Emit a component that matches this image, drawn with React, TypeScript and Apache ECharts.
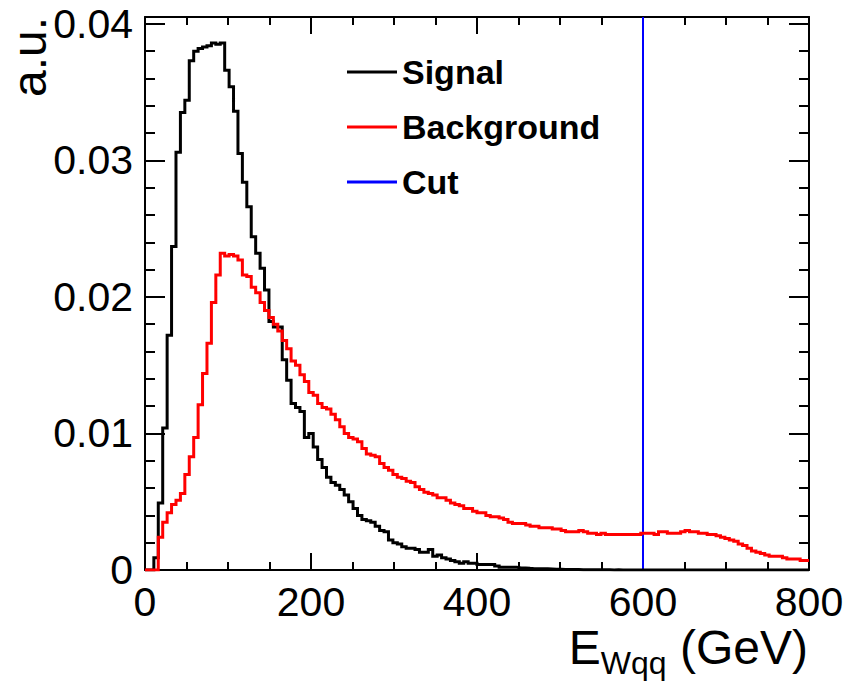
import { useEffect, useRef } from 'react';
import * as echarts from 'echarts';

const X_MIN = 0;
const X_MAX = 800;
const Y_MIN = 0;
const Y_MAX = 0.0405;

// 150 bins of 800/150 GeV each
const signal = [
  0, 0, 0.0009, 0.0049, 0.0104, 0.0172, 0.0237, 0.0306, 0.0335, 0.0344,
  0.0373, 0.038, 0.0382, 0.0383, 0.0384, 0.0386, 0.0385, 0.0386, 0.0366, 0.0354,
  0.0336, 0.0305, 0.0284, 0.0266, 0.0244, 0.0232, 0.0221, 0.0205, 0.0182, 0.0178,
  0.0178, 0.0154, 0.0139, 0.0122, 0.0119, 0.0116, 0.0097, 0.01, 0.009, 0.0081,
  0.0075, 0.0068, 0.0064, 0.0062, 0.0059, 0.0055, 0.005, 0.0045, 0.004, 0.0037,
  0.0036, 0.0035, 0.0032, 0.0029, 0.0028, 0.0022, 0.002, 0.0019, 0.0017, 0.0016,
  0.0016, 0.0015, 0.0013, 0.0013, 0.0015, 0.001, 0.0011, 0.0009, 0.0008, 0.0007,
  0.0006, 0.0005, 0.0006, 0.0005, 0.0005, 0.0004, 0.0004, 0.0004, 0.0004, 0.0003,
  0.0002, 0.0002, 0.0002, 0.0002, 0.00015, 0.00015, 0.00012, 0.0001, 0.0001, 0.0001,
  0.0001, 0.00008, 0.00006, 0.00005, 0.00004, 0.00004, 0.00003, 0.00003, 0.00002, 0.00002,
  0.00002, 0.00001, 0.00002, 0.00001, 0.00001, 0, 0.00001, 0, 0, 0,
  0, 0, 0, 0, 0, 0, 0, 0, 0, 0,
  0, 0, 0, 0, 0, 0, 0, 0, 0, 0,
  0, 0, 0, 0, 0, 0, 0, 0, 0, 0,
  0, 0, 0, 0, 0, 0, 0, 0, 0, 0,
];

const background = [
  0, 0, 0, 0.0024, 0.0035, 0.0042, 0.0048, 0.0051, 0.0056, 0.007,
  0.0083, 0.0097, 0.0121, 0.0144, 0.0166, 0.0196, 0.0216, 0.0232, 0.023, 0.0231,
  0.023, 0.0227, 0.0216, 0.0215, 0.0207, 0.0203, 0.0196, 0.019, 0.0185, 0.018,
  0.0175, 0.0168, 0.0162, 0.0153, 0.015, 0.0143, 0.0138, 0.013, 0.0128, 0.0122,
  0.0119, 0.0118, 0.0114, 0.011, 0.0105, 0.01, 0.0097, 0.0096, 0.0094, 0.0089,
  0.0085, 0.0084, 0.0083, 0.0078, 0.0075, 0.0073, 0.007, 0.0068, 0.0067, 0.0065,
  0.0064, 0.0061, 0.0059, 0.0057, 0.0056, 0.0055, 0.0053, 0.0053, 0.0051, 0.0049,
  0.0048, 0.0047, 0.0045, 0.0045, 0.0043, 0.0042, 0.0042, 0.004, 0.0039, 0.0039,
  0.0038, 0.0037, 0.0035, 0.0034, 0.0034, 0.0034, 0.0033, 0.0032, 0.0032, 0.0031,
  0.0031, 0.0031, 0.003, 0.003, 0.0029, 0.0028, 0.0028, 0.0028, 0.0029, 0.0028,
  0.0027, 0.0027, 0.0026, 0.0027, 0.0026, 0.0026, 0.0026, 0.0026, 0.0026, 0.0026,
  0.0026, 0.0026, 0.0027, 0.0027, 0.0027, 0.0026, 0.0028, 0.0028, 0.0027, 0.0027,
  0.0027, 0.0028, 0.0029, 0.0028, 0.0028, 0.0027, 0.0027, 0.0026, 0.0026, 0.0025,
  0.0024, 0.0023, 0.0022, 0.0021, 0.0019, 0.0018, 0.0016, 0.0014, 0.0013, 0.0012,
  0.0011, 0.001, 0.001, 0.001, 0.0009, 0.0008, 0.0008, 0.0008, 0.0007, 0.0007,
];

const cutPosition = [600];
const seriesNames = ['Signal', 'Background', 'Cut'];

const FONT = "'Liberation Sans', Arial, Helvetica, sans-serif";

function toSteps(values: number[]) {
  const w = (X_MAX - X_MIN) / values.length;
  const pts: number[][] = values.map((v, i) => [X_MIN + i * w, v]);
  pts.push([X_MAX, values[values.length - 1]]);
  return pts;
}

const axisLineStyle = { color: '#000', width: 2 };

function xAxisDef(position: 'top' | 'bottom', labels: boolean) {
  return {
    type: 'value',
    position,
    min: X_MIN,
    max: X_MAX,
    interval: 200,
    axisLine: { show: true, onZero: false, lineStyle: axisLineStyle },
    axisTick: { show: true, inside: true, length: 17, lineStyle: axisLineStyle },
    minorTick: { show: true, splitNumber: 4, length: 8, lineStyle: axisLineStyle },
    axisLabel: {
      show: labels,
      margin: 11,
      fontSize: 41,
      fontFamily: FONT,
      color: '#000',
    },
    splitLine: { show: false },
    minorSplitLine: { show: false },
  };
}

function yAxisDef(position: 'left' | 'right', major: boolean, labels: boolean) {
  return {
    type: 'value',
    position,
    min: Y_MIN,
    max: Y_MAX,
    interval: major ? 0.01 : 0.002,
    axisLine: { show: major, onZero: false, lineStyle: axisLineStyle },
    axisTick: { show: true, inside: true, length: major ? 20 : 10, lineStyle: axisLineStyle },
    axisLabel: {
      show: labels,
      margin: 12,
      fontSize: 41,
      fontFamily: FONT,
      color: '#000',
      formatter: (v: number) => {
        const k = v / 0.01;
        if (Math.abs(k - Math.round(k)) > 1e-6) return '';
        return v === 0 ? '0' : String(Math.round(k) / 100);
      },
    },
    splitLine: { show: false },
  };
}

export default function App() {
  const ref = useRef<HTMLDivElement>(null);

  useEffect(() => {
    document.body.style.margin = '0';
    if (!ref.current) return;
    const chart = echarts.init(ref.current, undefined, { renderer: 'svg' });
    const option: any = {
      animation: false,
      backgroundColor: '#ffffff',
      grid: { left: 145, top: 17, width: 664, height: 553, containLabel: false, outerBoundsMode: 'none' },
      legend: {
        orient: 'vertical',
        left: 342,
        top: 50,
        icon: 'rect',
        itemWidth: 50,
        itemHeight: 3,
        itemGap: 21,
        itemTextGap: 11,
        selectedMode: false,
        data: seriesNames,
        textStyle: { fontSize: 34, fontWeight: 'bold', fontFamily: FONT, color: '#000', lineHeight: 34 },
      },
      xAxis: [xAxisDef('bottom', true), xAxisDef('top', false)],
      yAxis: [
        yAxisDef('left', true, true),
        yAxisDef('left', false, false),
        yAxisDef('right', true, false),
        yAxisDef('right', false, false),
      ],
      series: [
        {
          name: seriesNames[0],
          type: 'line',
          xAxisIndex: 0,
          yAxisIndex: 0,
          data: toSteps(signal),
          step: 'end',
          symbol: 'none',
          showSymbol: false,
          lineStyle: { color: '#000000', width: 3, join: 'miter', cap: 'butt' },
          itemStyle: { color: '#000000' },
          z: 3,
        },
        {
          name: seriesNames[2],
          type: 'line',
          xAxisIndex: 0,
          yAxisIndex: 0,
          data: cutPosition.flatMap((c) => [[c, Y_MIN], [c, Y_MAX]]),
          symbol: 'none',
          showSymbol: false,
          lineStyle: { color: '#0000ff', width: 2 },
          itemStyle: { color: '#0000ff' },
          z: 2,
        },
        {
          name: seriesNames[1],
          type: 'line',
          xAxisIndex: 0,
          yAxisIndex: 0,
          data: toSteps(background),
          step: 'end',
          symbol: 'none',
          showSymbol: false,
          lineStyle: { color: '#ff0000', width: 3, join: 'miter', cap: 'butt' },
          itemStyle: { color: '#ff0000' },
          z: 4,
        },
      ],
      graphic: [
        {
          type: 'text',
          x: 53,
          y: 17,
          rotation: Math.PI / 2,
          style: {
            text: 'a.u.',
            fontSize: 48,
            fontFamily: FONT,
            fill: '#000',
            align: 'right',
            verticalAlign: 'bottom',
          },
        },
        {
          type: 'text',
          x: 808,
          y: 647,
          style: {
            text: '{e|E}{s|Wqq}{g| (GeV)}',
            fill: '#000',
            align: 'right',
            verticalAlign: 'middle',
            rich: {
              e: { fontSize: 48, fontFamily: FONT, fill: '#000', lineHeight: 48, verticalAlign: 'middle' },
              s: { fontSize: 32, fontFamily: FONT, fill: '#000', lineHeight: 32, verticalAlign: 'middle', padding: [32, 0, 0, 0] },
              g: { fontSize: 48, fontFamily: FONT, fill: '#000', lineHeight: 48, verticalAlign: 'middle' },
            },
          },
        },
      ],
    };
    chart.setOption(option);
    return () => chart.dispose();
  }, []);

  return <div ref={ref} style={{ width: 850, height: 686 }} />;
}
